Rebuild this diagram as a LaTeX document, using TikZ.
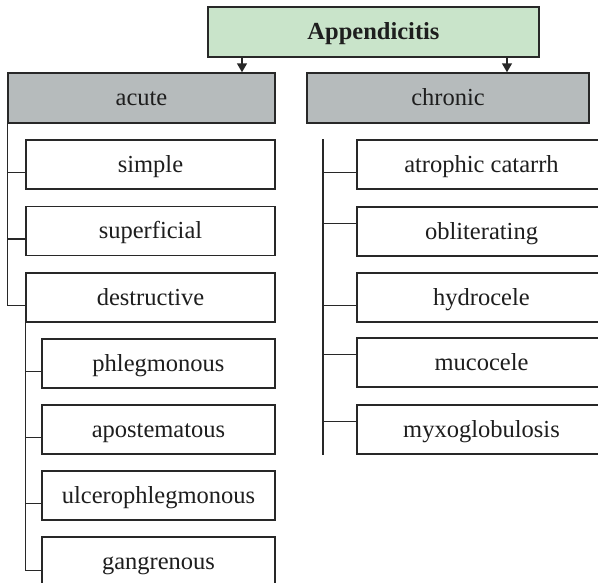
\documentclass[tikz,border=0pt]{standalone}
\usepackage{fontspec}
\setmainfont{Liberation Serif}
\usetikzlibrary{arrows.meta}
\definecolor{rootfill}{RGB}{201,228,202}
\definecolor{groupfill}{RGB}{182,187,188}
\definecolor{edge}{RGB}{40,40,40}
\definecolor{ink}{RGB}{30,30,30}
\tikzset{
  box/.style={draw=edge, line width=1.5pt, fill=white, inner sep=0pt,
    minimum height=49pt, text=ink, text height=18pt, text depth=3pt,
    font=\fontsize{24.5}{26}\selectfont},
  rootbox/.style={box, fill=rootfill, minimum width=331pt, minimum height=50pt,
    font=\fontsize{24.5}{26}\selectfont\bfseries},
  groupbox/.style={box, fill=groupfill, minimum height=50pt},
  leafbox/.style={box, minimum width=249pt},
  subbox/.style={box, minimum width=233pt},
  link/.style={draw=edge, line width=1.5pt},
  pointer/.style={link, -{Triangle[width=10pt,length=9pt]}}
}
\begin{document}
\begin{tikzpicture}[x=1pt,y=-1pt]
\clip (0,0) rectangle (598,582);
\fill[white] (0,0) rectangle (598,582);

% top level
\node[rootbox] (root) at (373.5,32) {Appendicitis};
\node[groupbox, minimum width=267pt] (acute) at (141.5,98) {acute};
\node[groupbox, minimum width=282pt] (chronic) at (448,98) {chronic};
\draw[pointer] (root.south -| 242,0) -- (acute.north -| 242,0);
\draw[pointer] (root.south -| 507,0) -- (chronic.north -| 507,0);

% acute forms
\node[leafbox] (simple) at (150.5,164.5) {simple};
\node[leafbox] (superficial) at (150.5,231) {superficial};
\node[leafbox] (destructive) at (150.5,297.5) {destructive};

% destructive forms
\node[subbox] (phleg) at (158.5,363.5) {phlegmonous};
\node[subbox] (apost) at (158.5,429.5) {apostematous};
\node[subbox] (ulcer) at (158.5,495.5) {ulcerophlegmonous};
\node[subbox] (gangr) at (158.5,561.5) {gangrenous};

% chronic forms
\node[leafbox] (atroph) at (481.5,164.5) {atrophic catarrh};
\node[leafbox] (oblit) at (481.5,231.5) {obliterating};
\node[leafbox] (hydro) at (481.5,297.5) {hydrocele};
\node[leafbox] (muco) at (481.5,362.5) {mucocele};
\node[leafbox] (myxo) at (481.5,429.5) {myxoglobulosis};

% acute tree
\coordinate (a1) at ([yshift=-8pt]simple.west);
\coordinate (a2) at ([yshift=-8pt]superficial.west);
\coordinate (a3) at ([yshift=-8pt]destructive.west);
\draw[link] (acute.south west) |- (a3);
\draw[link] (a1) -- (acute.south west |- a1);
\draw[link] (a2) -- (acute.south west |- a2);

% destructive tree
\coordinate (d1) at ([yshift=-8pt]phleg.west);
\coordinate (d2) at ([yshift=-8pt]apost.west);
\coordinate (d3) at ([yshift=-8pt]ulcer.west);
\coordinate (d4) at ([yshift=-9pt]gangr.west);
\draw[link] (destructive.south west) |- (d4);
\draw[link] (d1) -- (destructive.south west |- d1);
\draw[link] (d2) -- (destructive.south west |- d2);
\draw[link] (d3) -- (destructive.south west |- d3);

% chronic tree
\coordinate (ctop) at (323,139);
\coordinate (cbot) at (323,455);
\draw[link] (ctop) -- (cbot);
\coordinate (c1) at ([yshift=-8pt]atroph.west);
\coordinate (c2) at ([yshift=8pt]oblit.west);
\coordinate (c3) at ([yshift=-8pt]hydro.west);
\coordinate (c4) at ([yshift=8pt]muco.west);
\coordinate (c5) at ([yshift=8pt]myxo.west);
\foreach \c in {c1,c2,c3,c4,c5}
  \draw[link] (\c) -- (ctop |- \c);
\end{tikzpicture}
\end{document}
